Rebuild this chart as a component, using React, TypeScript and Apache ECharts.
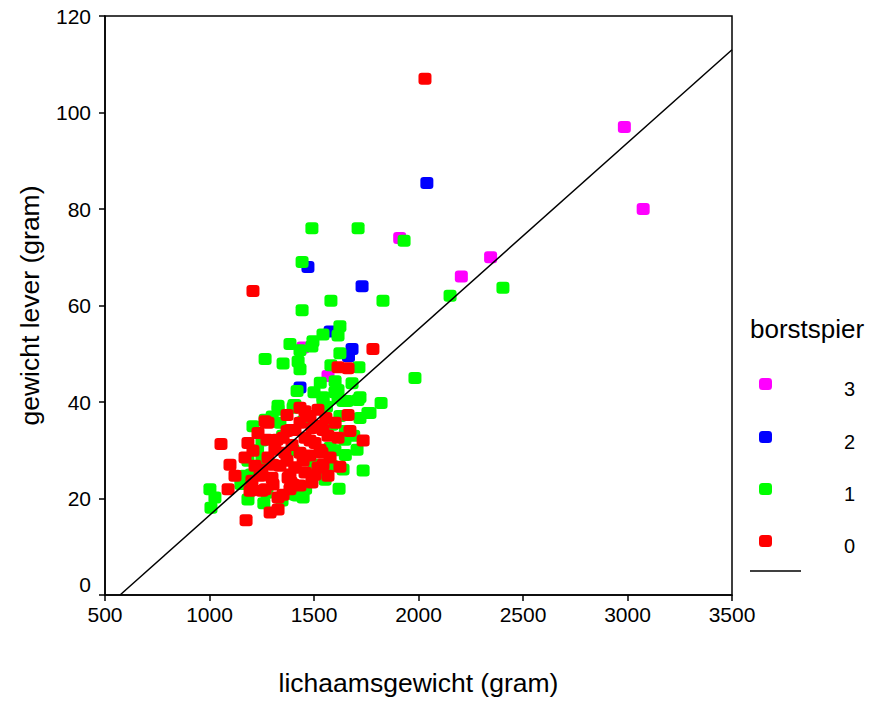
import React, { useEffect, useRef } from "react";
import * as echarts from "echarts";

const xTicks = [500, 1000, 1500, 2000, 2500, 3000, 3500];
const yTicks = [0, 20, 40, 60, 80, 100, 120];

const legendTitle = "borstspier";
const groupNames = ["3", "2", "1", "0"];
const groupColors = ["#FF00FF", "#0000FF", "#00FF00", "#FF0000"];

const group3: number[][] = [
  [2985, 97], [3075, 80], [1910, 74], [2345, 70], [2205, 66], [1447, 51.3], [1567, 45.4],
];

const group2: number[][] = [
  [2040, 85.4], [1471, 68], [1730, 64], [1577, 54.6], [1682, 51], [1665, 49.5], [1433, 43],
];

const group1: number[][] = [
  [1490, 76], [1711, 76], [1931, 73.4], [1443, 69], [1581, 61], [1830, 61], [2151, 62], [2404, 63.7], [1443, 59],
  [1624, 55.7], [1543, 54], [1615, 53.8], [1495, 52.6], [1385, 52], [1433, 50.7], [1490, 51.5], [1624, 50.1],
  [1266, 48.9], [1352, 48], [1424, 48.4], [1433, 46.8], [1581, 47.6], [1715, 47.2], [1682, 43.9], [1601, 44.3],
  [1615, 42.5], [1419, 42.3], [1543, 41], [1720, 41], [1821, 39.8], [1328, 39.2], [1404, 39.4], [1658, 40.2],
  [1615, 40.8], [1983, 45], [1758, 37.7], [1735, 25.8], [1706, 30.1],
  [1328, 38.4], [1400, 38.8], [1208, 35], [1266, 36.3], [1337, 35.7], [1251, 32], [1184, 27.8], [1251, 28],
  [1170, 24.7], [1002, 21.9], [1026, 20.2], [1007, 18.1], [1184, 19.8], [1275, 21.2], [1347, 19.6], [1409, 20.8],
  [1543, 40.4], [1639, 40.2], [1711, 40.4], [1768, 37.7], [1720, 36.7], [1624, 37.1], [1586, 35.3], [1648, 32.2],
  [1577, 30.5], [1639, 26], [1553, 23.9], [1586, 26.8], [1419, 20.6], [1448, 20.2], [1409, 39.4],
  [1500, 42], [1530, 44], [1560, 39], [1600, 42], [1650, 34], [1690, 33], [1600, 30], [1650, 29], [1560, 26],
  [1620, 22], [1500, 27], [1460, 22], [1350, 33], [1300, 37], [1230, 30], [1200, 25], [1150, 23], [1260, 19],
  [1450, 36], [1400, 30],
];

const group0: number[][] = [
  [2031, 107], [1208, 63], [1782, 51], [1615, 47.2], [1663, 47],
  [1055, 31.3], [1266, 36], [1371, 37.3], [1098, 27], [1122, 24.7], [1089, 21.9], [1208, 29.9], [1275, 32.2],
  [1323, 32.2], [1371, 34], [1251, 26], [1304, 27], [1371, 27.8], [1203, 23.7], [1194, 21.6], [1251, 21.6],
  [1304, 22.9], [1352, 20.8], [1290, 17.1], [1328, 17.7], [1175, 15.5], [1400, 22.9], [1385, 25],
  [1457, 38.1], [1663, 37.3], [1672, 34], [1735, 32], [1538, 29.5], [1624, 26.6], [1543, 27], [1505, 24.9],
  [1543, 34.2], [1409, 34.2], [1481, 32], [1448, 27.8], [1409, 26.4], [1390, 23.3],
  [1433, 38.8], [1481, 37.1], [1519, 38.4], [1557, 36.7], [1433, 35.7], [1490, 34.6], [1538, 35.1], [1601, 35.7],
  [1457, 32.6], [1505, 31.5], [1567, 33], [1615, 32.6], [1395, 31.1], [1433, 29.5], [1481, 28.9], [1529, 30.1],
  [1577, 28.5], [1361, 29.5], [1313, 30.1], [1280, 28.5], [1337, 26.8], [1409, 26.4], [1457, 25.4], [1519, 26.4],
  [1567, 24.7], [1242, 24.7], [1299, 24.3], [1376, 24.3], [1433, 22.7], [1490, 23.3], [1266, 21.9], [1328, 20.2],
  [1385, 21.9], [1218, 26.8], [1170, 28.5], [1184, 31.5], [1232, 33.6], [1280, 35.7], [1352, 32.6], [1385, 34.2],
];

const fitLine: number[][] = [
  [572, 0],
  [3500, 113],
];

const FONT = "'Liberation Sans', Arial, sans-serif";

export default function App() {
  const ref = useRef<HTMLDivElement>(null);

  useEffect(() => {
    if (!ref.current) return;
    const chart = echarts.init(ref.current, undefined, { renderer: "svg" });
    const groups = [group3, group2, group1, group0];

    const legendYs = [384, 437, 489, 541];
    const legendGraphics: any[] = [
      {
        type: "text",
        left: 750,
        top: 316,
        style: { text: legendTitle, fontSize: 26, fontFamily: FONT, fill: "#000" },
      },
    ];
    groupNames.forEach((n, i) => {
      legendGraphics.push({
        type: "rect",
        shape: { x: 759, y: legendYs[i] - 6, width: 13, height: 12, r: 3.5 },
        style: { fill: groupColors[i] },
      });
      legendGraphics.push({
        type: "text",
        x: 844,
        y: legendYs[i] + 5,
        style: {
          text: n,
          fontSize: 20,
          fontFamily: FONT,
          fill: "#000",
          verticalAlign: "middle",
          align: "left",
        },
      });
    });
    legendGraphics.push({
      type: "line",
      shape: { x1: 750, y1: 571, x2: 801, y2: 571 },
      style: { stroke: "#000", lineWidth: 1.5 },
    });

    chart.setOption({
      animation: false,
      backgroundColor: "#fff",
      textStyle: { fontFamily: FONT },
      grid: {
        left: 105,
        right: 137,
        top: 16,
        bottom: 103,
        show: true,
        borderColor: "#000",
        borderWidth: 1.5,
        backgroundColor: "transparent",
      },
      xAxis: {
        type: "value",
        min: xTicks[0],
        max: xTicks[xTicks.length - 1],
        interval: 500,
        name: "lichaamsgewicht (gram)",
        nameLocation: "middle",
        nameGap: 74,
        nameTextStyle: { fontSize: 26.5, color: "#000", fontFamily: FONT },
        axisLine: { show: true, onZero: false, lineStyle: { color: "#000", width: 1.5 } },
        axisTick: { show: true, length: 6, inside: false, lineStyle: { color: "#000", width: 1.5 } },
        axisLabel: {
          fontSize: 21,
          color: "#000",
          margin: 9,
          fontFamily: FONT,
          formatter: (v: number) => String(v),
        },
        splitLine: { show: false },
      },
      yAxis: {
        type: "value",
        min: yTicks[0],
        max: yTicks[yTicks.length - 1],
        interval: 20,
        name: "gewicht lever (gram)",
        nameLocation: "middle",
        nameGap: 62,
        nameTextStyle: { fontSize: 26.5, color: "#000", fontFamily: FONT },
        axisLine: { show: true, onZero: false, lineStyle: { color: "#000", width: 1.5 } },
        axisTick: { show: true, length: 6, inside: false, lineStyle: { color: "#000", width: 1.5 } },
        axisLabel: {
          fontSize: 21,
          color: "#000",
          margin: 14,
          fontFamily: FONT,
          formatter: (v: number) => (v === 0 ? "{z|0}" : String(v)),
          rich: { z: { fontSize: 21, color: "#000", fontFamily: FONT, padding: [0, 0, 22, 0] } },
        },
        splitLine: { show: false },
      },
      series: [
        ...groups.map((g, i) => ({
          type: "scatter",
          name: groupNames[i],
          data: g,
          symbol: "roundRect",
          symbolSize: [13, 12],
          itemStyle: { color: groupColors[i], opacity: 1 },
          z: 2 + i,
        })),
        {
          type: "line",
          name: "fit",
          data: fitLine,
          symbol: "none",
          lineStyle: { color: "#000", width: 1.5 },
          z: 10,
        },
      ],
      graphic: legendGraphics,
    });

    return () => chart.dispose();
  }, []);

  return (
    <div
      ref={ref}
      style={{ position: "fixed", left: 0, top: 0, width: 869, height: 701 }}
    />
  );
}
